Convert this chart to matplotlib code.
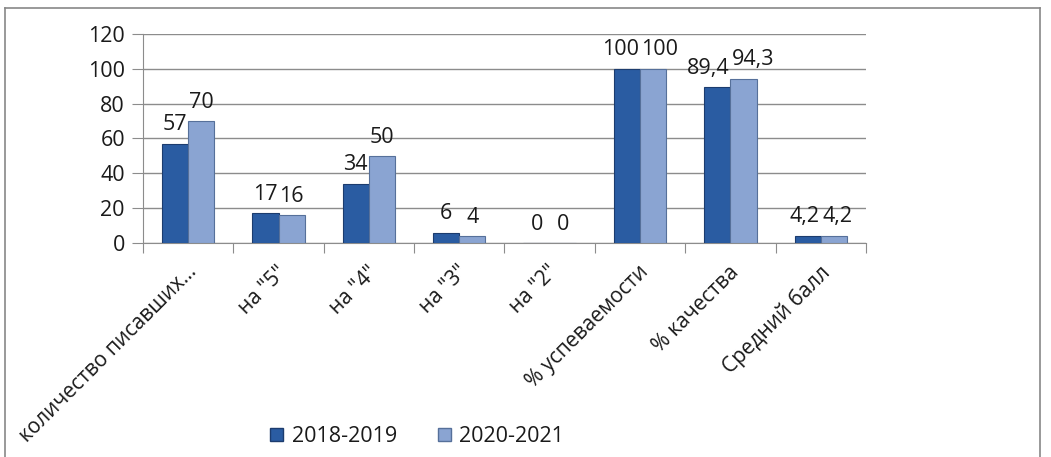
import matplotlib
matplotlib.use("Agg")
import matplotlib.pyplot as plt
from matplotlib.patches import Patch
from matplotlib.lines import Line2D
import matplotlib.transforms as mtransforms
import numpy as np

categories = ['количество писавших…', 'на "5"', 'на "4"', 'на "3"', 'на "2"',
              '% успеваемости', '% качества', 'Средний балл']
series_names = ['2018-2019', '2020-2021']
values_2018 = [57, 17, 34, 6, 0, 100, 89.4, 4.2]
values_2020 = [70, 16, 50, 4, 0, 100, 94.3, 4.2]
labels_2018 = ['57', '17', '34', '6', '0', '100', '89,4', '4,2']
labels_2020 = ['70', '16', '50', '4', '0', '100', '94,3', '4,2']
yticks = [0, 20, 40, 60, 80, 100, 120]

plt.rcParams['font.family'] = ['Open Sans', 'DejaVu Sans']
FS = 15.5
TXT = '#1A1A1A'

fig = plt.figure(figsize=(10.51, 4.57), dpi=100)
ax = fig.add_axes([0.136, 0.468, 0.688, 0.458])

c1 = '#2A5CA2'
c2 = '#8AA4D2'
x = np.arange(len(categories))
w = 0.29
b1 = ax.bar(x - w / 2, values_2018, w, color=c1, edgecolor='#1C3C6E', linewidth=0.8, zorder=3)
b2 = ax.bar(x + w / 2, values_2020, w, color=c2, edgecolor='#56709A', linewidth=0.8, zorder=3)

for i, (rect, lab) in enumerate(zip(b1, labels_2018)):
    wide = len(lab) >= 3 or len(labels_2020[i]) >= 3
    if wide:
        xa, ha, dx = rect.get_x() + rect.get_width(), 'right', -1
    else:
        xa, ha, dx = rect.get_x() + rect.get_width() / 2, 'center', 0
    ax.annotate(lab, (xa, rect.get_height()), xytext=(dx, 6), textcoords='offset points',
                ha=ha, va='bottom', fontsize=FS, color=TXT, zorder=4)
for i, (rect, lab) in enumerate(zip(b2, labels_2020)):
    wide = len(lab) >= 3 or len(labels_2018[i]) >= 3
    if wide:
        xa, ha, dx = rect.get_x(), 'left', 1
    else:
        xa, ha, dx = rect.get_x() + rect.get_width() / 2, 'center', 0
    ax.annotate(lab, (xa, rect.get_height()), xytext=(dx, 6), textcoords='offset points',
                ha=ha, va='bottom', fontsize=FS, color=TXT, zorder=4)

ax.set_ylim(0, 120)
ax.set_xlim(-0.5, len(categories) - 0.5)
ax.set_yticks(yticks)
ax.set_yticklabels([str(v) for v in yticks], fontsize=FS, color=TXT)
ax.yaxis.grid(True, color='#8C8C8C', linewidth=1.0, zorder=0)
ax.tick_params(axis='y', length=8, color='#8C8C8C', pad=5)

ax.set_xticks(np.arange(-0.5, len(categories), 1.0))
ax.set_xticklabels([])
ax.tick_params(axis='x', length=7, color='#8C8C8C', direction='out')
ax.set_xticks(x, minor=True)
ax.set_xticklabels(categories, minor=True, rotation=45, ha='right',
                   rotation_mode='anchor', fontsize=15, color=TXT)
ax.tick_params(axis='x', which='minor', length=0, pad=9)
offset = mtransforms.ScaledTranslation(-2 / 100, -6 / 100, fig.dpi_scale_trans)
for lbl in ax.get_xticklabels(minor=True):
    lbl.set_transform(lbl.get_transform() + offset)

for s in ['top', 'right']:
    ax.spines[s].set_visible(False)
ax.spines['left'].set_color('#8C8C8C')
ax.spines['bottom'].set_color('#8C8C8C')

handles = [Patch(facecolor=c1, edgecolor='#1C3C6E'), Patch(facecolor=c2, edgecolor='#56709A')]
fig.legend(handles, series_names, loc='center', bbox_to_anchor=(0.397, 0.045), ncol=2,
           frameon=False, fontsize=FS, handlelength=0.6, handleheight=0.6,
           columnspacing=1.9, handletextpad=0.4, labelcolor=TXT)

# outer frame
fig.add_artist(Line2D([5 / 1051, 5 / 1051], [0, 1 - 8 / 457], transform=fig.transFigure,
                      color='#888888', linewidth=1.2))
fig.add_artist(Line2D([5 / 1051, 1040 / 1051], [1 - 8 / 457, 1 - 8 / 457],
                      transform=fig.transFigure, color='#888888', linewidth=1.2))
fig.add_artist(Line2D([1040 / 1051, 1040 / 1051], [0, 1 - 8 / 457], transform=fig.transFigure,
                      color='#888888', linewidth=1.2))

fig.savefig('out.png', dpi=100)
